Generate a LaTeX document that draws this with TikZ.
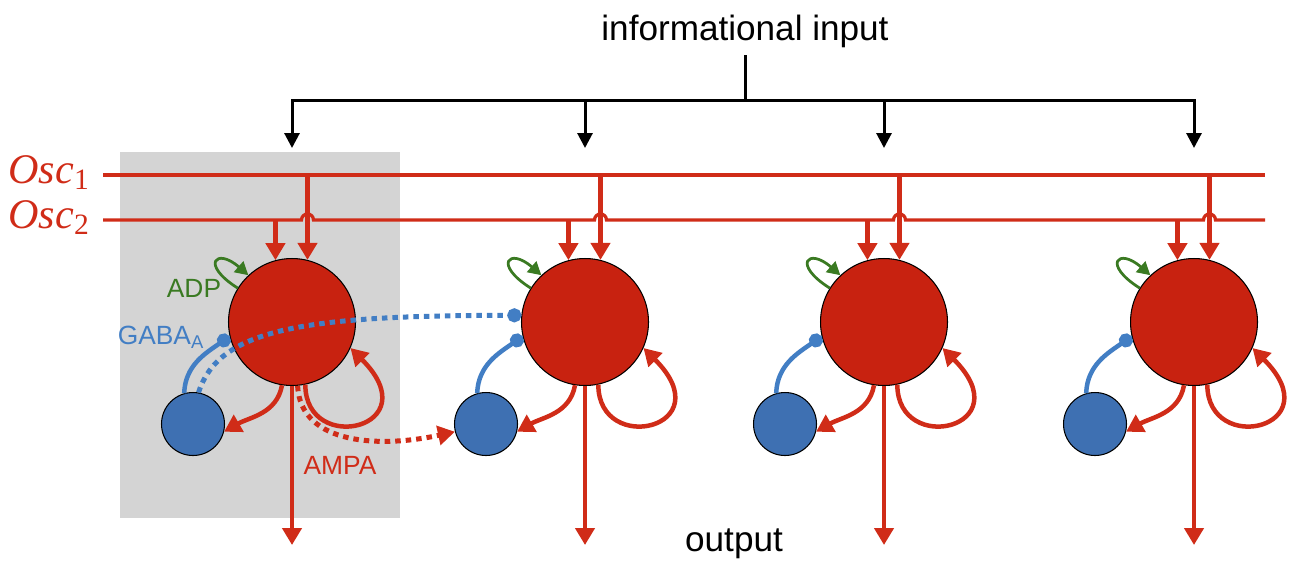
\documentclass[tikz,border=0pt]{standalone}
\usepackage{fontspec}
\setmainfont{Liberation Sans}
\newfontfamily\oscfont{Liberation Serif}
\usetikzlibrary{arrows.meta,calc}

\definecolor{excred}{RGB}{200,34,16}
\definecolor{synred}{RGB}{208,44,24}
\definecolor{inhblue}{RGB}{62,112,178}
\definecolor{synblue}{RGB}{66,126,196}
\definecolor{adpgreen}{RGB}{58,122,34}
\definecolor{modgray}{RGB}{212,212,212}

\tikzset{
  exc/.style={circle, draw=black, line width=0.6pt, fill=excred, minimum size=2.54cm, inner sep=0pt},
  inh/.style={circle, draw=black, line width=0.6pt, fill=inhblue, minimum size=1.26cm, inner sep=0pt},
  rail/.style={draw=synred, line width=0.065cm},
  feed/.style={draw=black, line width=0.06cm, -{Triangle[width=0.3cm,length=0.3cm]}},
  ampa/.style={draw=synred, line width=0.09cm, -{Triangle[width=0.38cm,length=0.34cm]}},
  gaba/.style={draw=synblue, line width=0.09cm, -{Circle[length=0.28cm]}},
  adp/.style={draw=adpgreen, line width=0.055cm, -{Triangle[width=0.28cm,length=0.26cm]}},
  dots/.style={line width=0.1cm, dash pattern=on 0.11cm off 0.1cm},
  big/.style={font=\fontsize{20}{24}\selectfont, inner sep=0pt},
  lbl/.style={font=\fontsize{15}{18}\selectfont, inner sep=0pt},
  osclbl/.style={text=synred, font=\oscfont\fontsize{24}{28}\selectfont, inner sep=0pt}
}

\begin{document}
\begin{tikzpicture}[x=0.02cm,y=0.02cm]
  \useasboundingbox (0,0) rectangle (1291,-562);
  \fill[modgray] (120,-152) rectangle (400,-518);

  % cells: excitatory (e) and inhibitory (h)
  \draw
    (292,-322) node[exc] (e1){}
    (585,-322) node[exc] (e2){}
    (884,-322) node[exc] (e3){}
    (1194,-322) node[exc] (e4){}
    (193,-424) node[inh] (h1){}
    (486,-424) node[inh] (h2){}
    (785,-424) node[inh] (h3){}
    (1095,-424) node[inh] (h4){};

  % input tree
  \node[big] (info) at (745,-31) {informational input};
  \coordinate (stem) at (745,-55);
  \coordinate (fork) at (745,-100);
  \coordinate (top) at (0,-148);
  \coordinate (bottom) at (0,-545);
  \draw[line width=0.06cm] (stem) -- (fork);
  \draw[feed] (fork) -| (e1 |- top);
  \draw[feed] (fork) -| (e2 |- top);
  \draw[feed] (fork) -| (e3 |- top);
  \draw[feed] (fork) -| (e4 |- top);

  % oscillator rails
  \node[osclbl, anchor=base east] (osc1) at (90,-183) {\itshape Osc\textsubscript{\upshape 1}};
  \node[osclbl, anchor=base east] (osc2) at (90,-228) {\itshape Osc\textsubscript{\upshape 2}};
  \coordinate (r1w) at (103,-175);
  \coordinate (r1e) at (1265,-175);
  \coordinate (r2w) at (103,-220);
  \coordinate (r2e) at (1265,-220);
  \draw[rail] (r1w) -- (r1e);
  \draw[rail] (r2w)
    -- ($(e1.76 |- r2w)+(-6,0)$) arc[start angle=180,end angle=0,radius=6]
    -- ($(e2.76 |- r2w)+(-6,0)$) arc[start angle=180,end angle=0,radius=6]
    -- ($(e3.76 |- r2w)+(-6,0)$) arc[start angle=180,end angle=0,radius=6]
    -- ($(e4.76 |- r2w)+(-6,0)$) arc[start angle=180,end angle=0,radius=6]
    -- (r2e);

  % drops from the rails
  \draw[ampa] (e1.76 |- r1w) -- (e1.76);
  \draw[ampa] (e1.105 |- r2w) -- (e1.105);
  \draw[ampa] (e2.76 |- r1w) -- (e2.76);
  \draw[ampa] (e2.105 |- r2w) -- (e2.105);
  \draw[ampa] (e3.76 |- r1w) -- (e3.76);
  \draw[ampa] (e3.105 |- r2w) -- (e3.105);
  \draw[ampa] (e4.76 |- r1w) -- (e4.76);
  \draw[ampa] (e4.105 |- r2w) -- (e4.105);

  % module 1
  \draw[adp] (e1.148) .. controls +(-38,24) and +(-32,28) .. (e1.133);
  \draw[gaba] (h1.106) to[out=88,in=215] (e1.193);
  \draw[ampa] (e1.-99) to[out=-100,in=30] (h1.-14);
  \draw[ampa] (e1.-78) .. controls +(0,-72) and +(80,-80) .. (e1.-24);
  \draw[ampa] (e1.south) -- (e1 |- bottom);

  % module 2
  \draw[adp] (e2.148) .. controls +(-38,24) and +(-32,28) .. (e2.133);
  \draw[gaba] (h2.106) to[out=88,in=215] (e2.193);
  \draw[ampa] (e2.-99) to[out=-100,in=30] (h2.-14);
  \draw[ampa] (e2.-78) .. controls +(0,-72) and +(80,-80) .. (e2.-24);
  \draw[ampa] (e2.south) -- (e2 |- bottom);

  % module 3
  \draw[adp] (e3.148) .. controls +(-38,24) and +(-32,28) .. (e3.133);
  \draw[gaba] (h3.106) to[out=88,in=215] (e3.193);
  \draw[ampa] (e3.-99) to[out=-100,in=30] (h3.-14);
  \draw[ampa] (e3.-78) .. controls +(0,-72) and +(80,-80) .. (e3.-24);
  \draw[ampa] (e3.south) -- (e3 |- bottom);

  % module 4
  \draw[adp] (e4.148) .. controls +(-38,24) and +(-32,28) .. (e4.133);
  \draw[gaba] (h4.106) to[out=88,in=215] (e4.193);
  \draw[ampa] (e4.-99) to[out=-100,in=30] (h4.-14);
  \draw[ampa] (e4.-78) .. controls +(0,-72) and +(80,-80) .. (e4.-24);
  \draw[ampa] (e4.south) -- (e4 |- bottom);

  % links from module 1 to module 2
  \draw[gaba, dots] (h1.80) .. controls +(20,63) and +(-220,0) .. (e2.174);
  \draw[ampa, dots] (e1.-85) .. controls +(3,-60) and +(-73,-16) .. (h2.194);

  % labels
  \node[lbl, text=adpgreen] (adplbl) at (194,-288) {ADP};
  \node[lbl, text=synblue] (gabalbl) at (161,-337) {GABA\textsubscript{A}};
  \node[lbl, text=synred] (ampalbl) at (340,-465) {AMPA};
  \node[big] (out) at (734,-544) {output};
\end{tikzpicture}
\end{document}
